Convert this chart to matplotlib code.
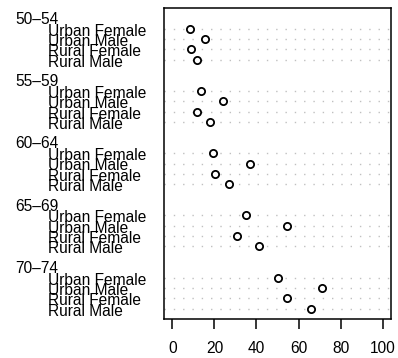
import matplotlib
matplotlib.use("Agg")
import matplotlib.pyplot as plt
import matplotlib.transforms as mtransforms

# death rates per 1000, Virginia 1940
age_groups = ["50\u201354", "55\u201359", "60\u201364", "65\u201369", "70\u201374"]
series = ["Urban Female", "Urban Male", "Rural Female", "Rural Male"]
urban_female = [8.4, 13.6, 19.3, 35.1, 50.0]
urban_male = [15.4, 24.3, 37.0, 54.6, 71.1]
rural_female = [8.7, 11.7, 20.3, 30.9, 54.3]
rural_male = [11.7, 18.1, 26.9, 41.0, 66.0]
values = [urban_female, urban_male, rural_female, rural_male]
xticks = [0, 20, 40, 60, 80, 100]

plt.rcParams['font.family'] = ['Liberation Sans', 'DejaVu Sans']
plt.rcParams['lines.scale_dashes'] = False

fig = plt.figure(figsize=(3.98, 3.58), dpi=100)
ax = fig.add_axes([164 / 398, 39 / 358, 227 / 398, 311 / 358])

fs = 11.2
# labels go in the left margin, x in figure pixels, y in data units
base_trans = mtransforms.blended_transform_factory(
    mtransforms.IdentityTransform(), ax.transData)
item_trans = base_trans + mtransforms.ScaledTranslation(0, -0.07, fig.dpi_scale_trans)
grp_trans = base_trans + mtransforms.ScaledTranslation(0, -0.057, fig.dpi_scale_trans)

ngroups = len(age_groups)
for g, grp in enumerate(age_groups):
    base = 6 * (ngroups - 1 - g)
    for i, name in enumerate(series):
        y = base + 4 - i
        ax.axhline(y, color="#c0c0c0", lw=1.0, ls=(0, (1.0, 5.7)), zorder=1)
        ax.plot(values[i][g], y, "o", ms=5.2, mfc="white", mec="black",
                mew=1.3, zorder=3)
        ax.text(48, y, name, transform=item_trans, ha="left", va="baseline",
                fontsize=fs, clip_on=False)
    ax.text(15, base + 5, grp, transform=grp_trans, ha="left", va="baseline",
            fontsize=fs, clip_on=False)

ax.set_xlim(-4, 104)
ax.set_ylim(0, 30)
ax.set_yticks([])
ax.set_xticks(xticks)
ax.set_xticklabels([str(t) for t in xticks])
ax.tick_params(axis="x", direction="out", length=7, width=1.1, pad=9,
               labelsize=fs)
for s in ax.spines.values():
    s.set_linewidth(1.1)

fig.savefig("out.png", dpi=100)
